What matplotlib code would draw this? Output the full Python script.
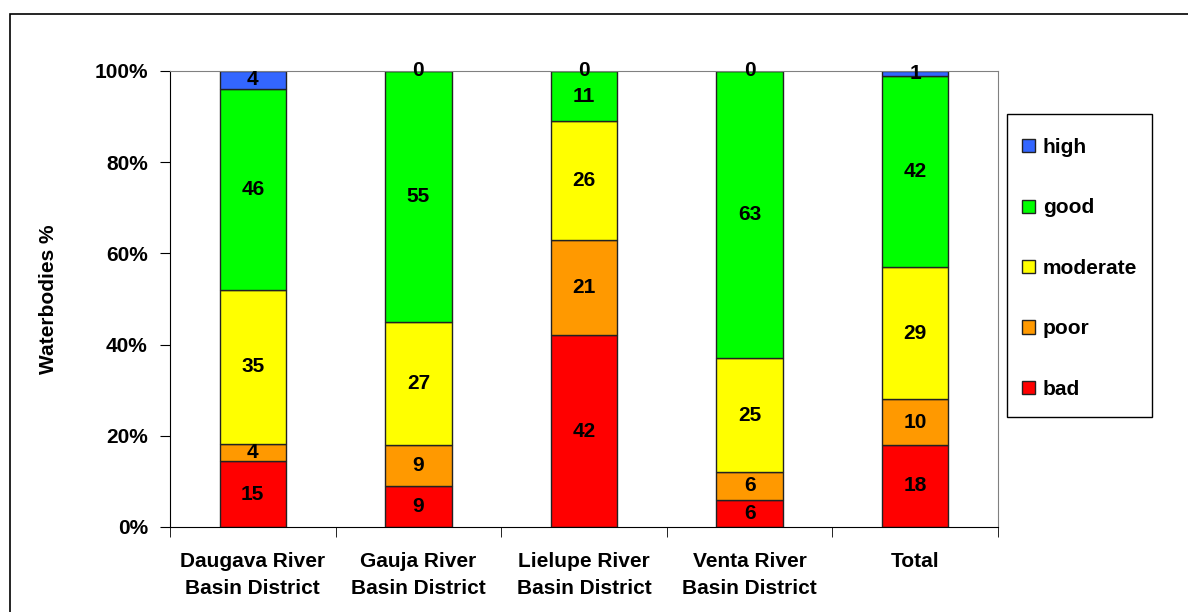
import matplotlib.pyplot as plt
from matplotlib.patches import Rectangle
import numpy as np

plt.rcParams['font.family'] = ['Liberation Sans', 'DejaVu Sans']
plt.rcParams['font.weight'] = 'bold'

districts = ['Daugava River\nBasin District', 'Gauja River\nBasin District',
             'Lielupe River\nBasin District', 'Venta River\nBasin District', 'Total']
classes = ['bad', 'poor', 'moderate', 'good', 'high']
colors = ['#FF0000', '#FF9900', '#FFFF00', '#00FF00', '#3366FF']

bad = [15, 9, 42, 6, 18]
poor = [4, 9, 21, 6, 10]
moderate = [35, 27, 26, 25, 29]
good = [46, 55, 11, 63, 42]
high = [4, 0, 0, 0, 1]

series = np.array([bad, poor, moderate, good, high], dtype=float)
totals = series.sum(axis=0)
shares = series / totals * 100

fs = 15
W, H = 1188, 612
fig = plt.figure(figsize=(W / 100, H / 100), dpi=100)
ax = fig.add_axes([170/W, 85/H, 828/W, 456/H])

x = np.arange(len(districts))
bottom = np.zeros(len(districts))
bars = []
for i, name in enumerate(classes):
    b = ax.bar(x, shares[i], 0.4, bottom=bottom, color=colors[i],
               edgecolor='#222222', linewidth=1, label=name, zorder=2)
    bars.append(b)
    for j in range(len(x)):
        ax.text(x[j], bottom[j] + shares[i][j] / 2, '%d' % series[i][j],
                ha='center', va='center', fontsize=fs, fontweight='bold', zorder=3)
    bottom += shares[i]

ax.set_xlim(-0.5, len(districts) - 0.5)
ax.set_ylim(0, 100)
ax.set_yticks(range(0, 101, 20))
ax.set_yticklabels(['%d%%' % v for v in range(0, 101, 20)])
ax.set_xticks(x)
ax.set_xticklabels(districts, linespacing=1.5)
ax.set_xticks(np.arange(-0.5, len(districts)), minor=True)
ax.tick_params(axis='x', which='major', length=0, pad=18, labelsize=fs)
ax.tick_params(axis='x', which='minor', length=7, direction='out')
ax.tick_params(axis='y', length=7, direction='out', pad=9, labelsize=fs)
for lbl in ax.get_xticklabels() + ax.get_yticklabels():
    lbl.set_fontweight('bold')

for side in ['top', 'right']:
    ax.spines[side].set_color('#808080')
for side in ['left', 'bottom']:
    ax.spines[side].set_color('black')

ax.set_ylabel('Waterbodies %', fontsize=fs, fontweight='bold', labelpad=26)

# legend entries (top to bottom: high ... bad), frame drawn separately
handles = [bars[i] for i in range(len(classes) - 1, -1, -1)]
labels = [classes[i] for i in range(len(classes) - 1, -1, -1)]
leg = fig.legend(handles, labels, loc='upper left',
                 bbox_to_anchor=(1022/W, 1 - 138/H), borderaxespad=0,
                 borderpad=0, fontsize=fs, handlelength=0.6, handleheight=0.6,
                 handletextpad=0.4, labelspacing=1.99, frameon=False)

fig.patches.append(Rectangle((1007/W, 1 - 417/H), 145/W, 303/H, fill=False,
                             edgecolor='black', linewidth=1,
                             transform=fig.transFigure, figure=fig))
fig.patches.append(Rectangle((10/W, -0.1), 1.2, 1.1 - 14/H, fill=False,
                             edgecolor='black', linewidth=1.2,
                             transform=fig.transFigure, figure=fig))

fig.savefig('out.png', dpi=100)
